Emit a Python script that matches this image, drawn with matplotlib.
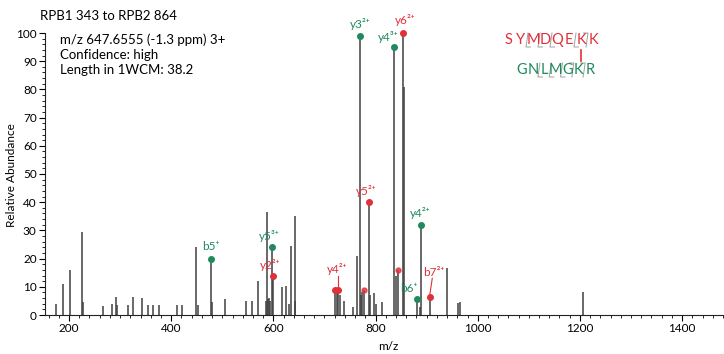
import matplotlib
matplotlib.use("Agg")
import matplotlib.pyplot as plt
from matplotlib.ticker import MultipleLocator
from matplotlib.lines import Line2D

plt.rcParams['font.family'] = ['Lato', 'DejaVu Sans']

# peaks (m/z, relative abundance)
mz = [174, 189, 202, 225, 227, 267, 285, 292, 294, 315, 325, 342, 354, 365, 377,
      411, 422, 448, 453, 477, 479, 505, 546, 559, 569, 585, 587, 589, 591, 594,
      597, 600, 616, 624, 631, 634, 642, 643, 720, 724, 727, 731, 738, 755, 763,
      769, 771, 774, 777, 787, 790, 796, 801, 812, 836, 840, 844, 853, 855, 881,
      887, 889, 906, 940, 961, 965, 1207]
inten = [3.9, 11, 16, 29.4, 4.5, 3.3, 4, 6.4, 3.5, 3.5, 6.4, 6, 3.5, 3.5, 3.5,
         3.5, 3.5, 24, 3.5, 19.8, 4.5, 5.5, 4.8, 4.8, 12, 5, 36.5, 5.5, 6, 5,
         24, 14, 10, 10.3, 4, 24.5, 35, 5, 8, 8.5, 8, 7, 5, 3, 21,
         99, 7, 8, 9, 40, 7, 7.8, 4, 4.5, 95, 14, 16, 100, 81, 5.5,
         3, 32, 6.5, 16.8, 4.2, 4.5, 8]

# annotated fragment ions: label, m/z, intensity, colour key, text offset (points)
ions = [
    ("b5⁺", 477, 19.8, "g", (0, 5)),
    ("y5³⁺", 597, 24, "g", (-2, 4)),
    ("y2²⁺", 600, 14, "r", (-2, 3)),
    ("y3²⁺", 769, 99, "g", (0, 4)),
    ("y4³⁺", 836, 95, "g", (-4, 3)),
    ("y6²⁺", 853, 100, "r", (2, 5)),
    ("y5²⁺", 787, 40, "r", (-2, 4)),
    ("y4²⁺", 889, 32, "g", (-1, 4)),
    ("b6⁺", 881, 5.5, "g", (-6, 4)),
]
star_mz = [777, 844]
star_int = [9, 16]

green = "#1f8a5e"
red = "#e0303a"
cols = {"g": green, "r": red}

fig = plt.figure(figsize=(7.24, 3.54), dpi=100)
W, H = 724.0, 354.0
ax = fig.add_axes([45 / W, 1 - 315 / H, 1 - 45 / W, (315 - 33) / H])
ax.set_xlim(153, 1482)
ax.set_ylim(0, 100)

ax.vlines(mz, 0, inten, color="#404040", lw=1.1)

for lab, x, y, c, off in ions:
    ax.plot(x, y, "o", color=cols[c], ms=4, clip_on=False, zorder=3)
    ax.annotate(lab, (x, y), xytext=off, textcoords="offset points",
                ha="center", va="bottom", color=cols[c], fontsize=8.5,
                annotation_clip=False)

ax.plot(star_mz, star_int, "o", color=red, ms=3.5, alpha=0.8, zorder=3)

# y4 2+ (red) with two dots and a leader line
ax.plot([720, 727], [9, 8.8], "o", color=red, ms=4, zorder=3)
ax.plot([727, 727], [9.5, 14], color=red, lw=0.8)
ax.text(725, 14.2, "y4²⁺", color=red, fontsize=8.5, ha="center", va="bottom")
# b7 2+ (red) with leader line
ax.plot(906, 6.5, "o", color=red, ms=4, zorder=3)
ax.plot([906, 911], [7, 13], color=red, lw=0.8)
ax.text(914, 13, "b7²⁺", color=red, fontsize=8.5, ha="center", va="bottom")

for s in ["top", "right"]:
    ax.spines[s].set_visible(False)
ax.spines["left"].set_bounds(0, 100)
ax.spines["left"].set_color("#222")
ax.spines["bottom"].set_color("#222")

ax.xaxis.set_major_locator(MultipleLocator(200))
ax.xaxis.set_minor_locator(MultipleLocator(20))
ax.yaxis.set_major_locator(MultipleLocator(10))
ax.yaxis.set_minor_locator(MultipleLocator(2))
ax.tick_params(which="major", length=4, width=0.8, labelsize=8.5, pad=2)
ax.tick_params(which="minor", length=2, width=0.6)

fig.text(12 / W, 1 - 175 / H, "Relative Abundance", rotation=90,
         ha="center", va="center", fontsize=8.5)
fig.text(388 / W, 1 - 347 / H, "m/z", ha="center", va="center", fontsize=8.5)

# header text
fig.text(40 / W, 1 - 16 / H, "RPB1 343 to RPB2 864", fontsize=9.5, va="center")
info = ["m/z 647.6555 (-1.3 ppm) 3+", "Confidence: high", "Length in 1WCM: 38.2"]
for i, line in enumerate(info):
    fig.text(60 / W, 1 - (40 + 15 * i) / H, line, fontsize=9.5, va="center")

# cross-linked peptides
pep1 = "SYMDQEKK"
pep2 = "GNLMGKR"
pep1_y_gaps = [1, 2, 3, 5]
pep1_b_gaps = [6]
pep2_y_gaps = [1, 2, 3]
pep2_b_gaps = [4, 5]


def draw_peptide(seq, x0, yc, step, color, ygaps, bgaps):
    for i, ch in enumerate(seq):
        fig.text((x0 + i * step) / W, 1 - yc / H, ch, color=color, fontsize=10.5,
                 ha="center", va="center")
    for g in ygaps + bgaps:
        gx = x0 + (g + 0.5) * step
        top, bot = yc - 7, yc + 7
        if g in bgaps:
            xs, ys = [gx - 3.5, gx + 1, gx - 1], [top, top, bot]
        else:
            xs, ys = [gx + 1, gx - 1, gx + 3.5], [top, bot, bot]
        fig.add_artist(Line2D([x / W for x in xs], [1 - y / H for y in ys],
                              color="#8a8a8a", lw=0.7, alpha=0.8))


draw_peptide(pep1, 509, 40, 12.0, red, pep1_y_gaps, pep1_b_gaps)
draw_peptide(pep2, 522, 70, 11.3, green, pep2_y_gaps, pep2_b_gaps)
# cross-link bar between the two lysines
kx = 509 + 6 * 12.0
fig.add_artist(Line2D([kx / W, kx / W], [1 - 50 / H, 1 - 61 / H], color=red, lw=1.2))

fig.savefig("out.png", dpi=100)
